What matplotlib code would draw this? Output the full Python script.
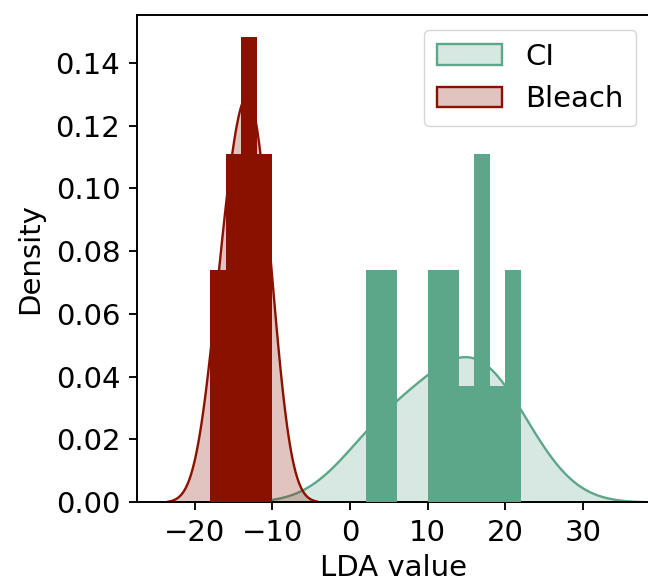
import numpy as np
import matplotlib
matplotlib.use("Agg")
import matplotlib.pyplot as plt
import seaborn as sns

# LDA values per group
ci_values = [2.5, 3.6, 4.3, 5.5, 10.4, 11.5, 12.2, 13.6, 15.0,
             16.3, 17.0, 17.7, 19.0, 20.5, 21.6]
bleach_values = [-17.5, -16.4, -15.6, -15.0, -14.3, -13.8, -13.2,
                 -12.6, -12.1, -11.7, -11.0, -10.3]
ci_bins = [2, 4, 6, 8, 10, 12, 14, 16, 18, 20, 22]
bleach_bins = [-18, -16, -14, -12, -10]
labels = ["CI", "Bleach"]

green = "#5ca68a"
red = "#8a1100"

fig = plt.figure(figsize=(6.48, 5.81), dpi=100)
# axes runs slightly past the right edge of the canvas, as in the original crop
ax = fig.add_axes([137 / 648, 1 - 502 / 581, (651 - 137) / 648, (502 - 15) / 581])

n_total = len(ci_values) + len(bleach_values)

sns.kdeplot(x=ci_values, ax=ax, fill=True, color=green, alpha=0.25,
            linewidth=1.7, bw_adjust=1.5, label=labels[0], zorder=1)
sns.kdeplot(x=bleach_values, ax=ax, fill=True, color=red, alpha=0.25,
            linewidth=1.7, bw_adjust=1.5, label=labels[1], zorder=2)

ax.hist(ci_values, bins=ci_bins, weights=np.full(len(ci_values), 1 / n_total),
        color=green, linewidth=0, zorder=3)
ax.hist(bleach_values, bins=bleach_bins, weights=np.full(len(bleach_values), 1 / n_total),
        color=red, linewidth=0, zorder=4)

x0 = 350
ppu = 7.77
ax.set_xlim((137 - x0) / ppu, (651 - x0) / ppu)
ax.set_ylim(0, 0.1553)
ax.set_xticks([-20, -10, 0, 10, 20, 30])
ax.set_yticks(np.arange(0, 0.15, 0.02))
ax.tick_params(labelsize=21, length=6, width=1.35, pad=6)
for s in ax.spines.values():
    s.set_linewidth(1.4)
ax.set_xlabel("LDA value", fontsize=21, labelpad=5)
ax.set_ylabel("Density", fontsize=21, labelpad=8)

ax.legend(loc="upper right", fontsize=21, handlelength=2.2, borderpad=0.45)

fig.savefig("out.png", dpi=100)
